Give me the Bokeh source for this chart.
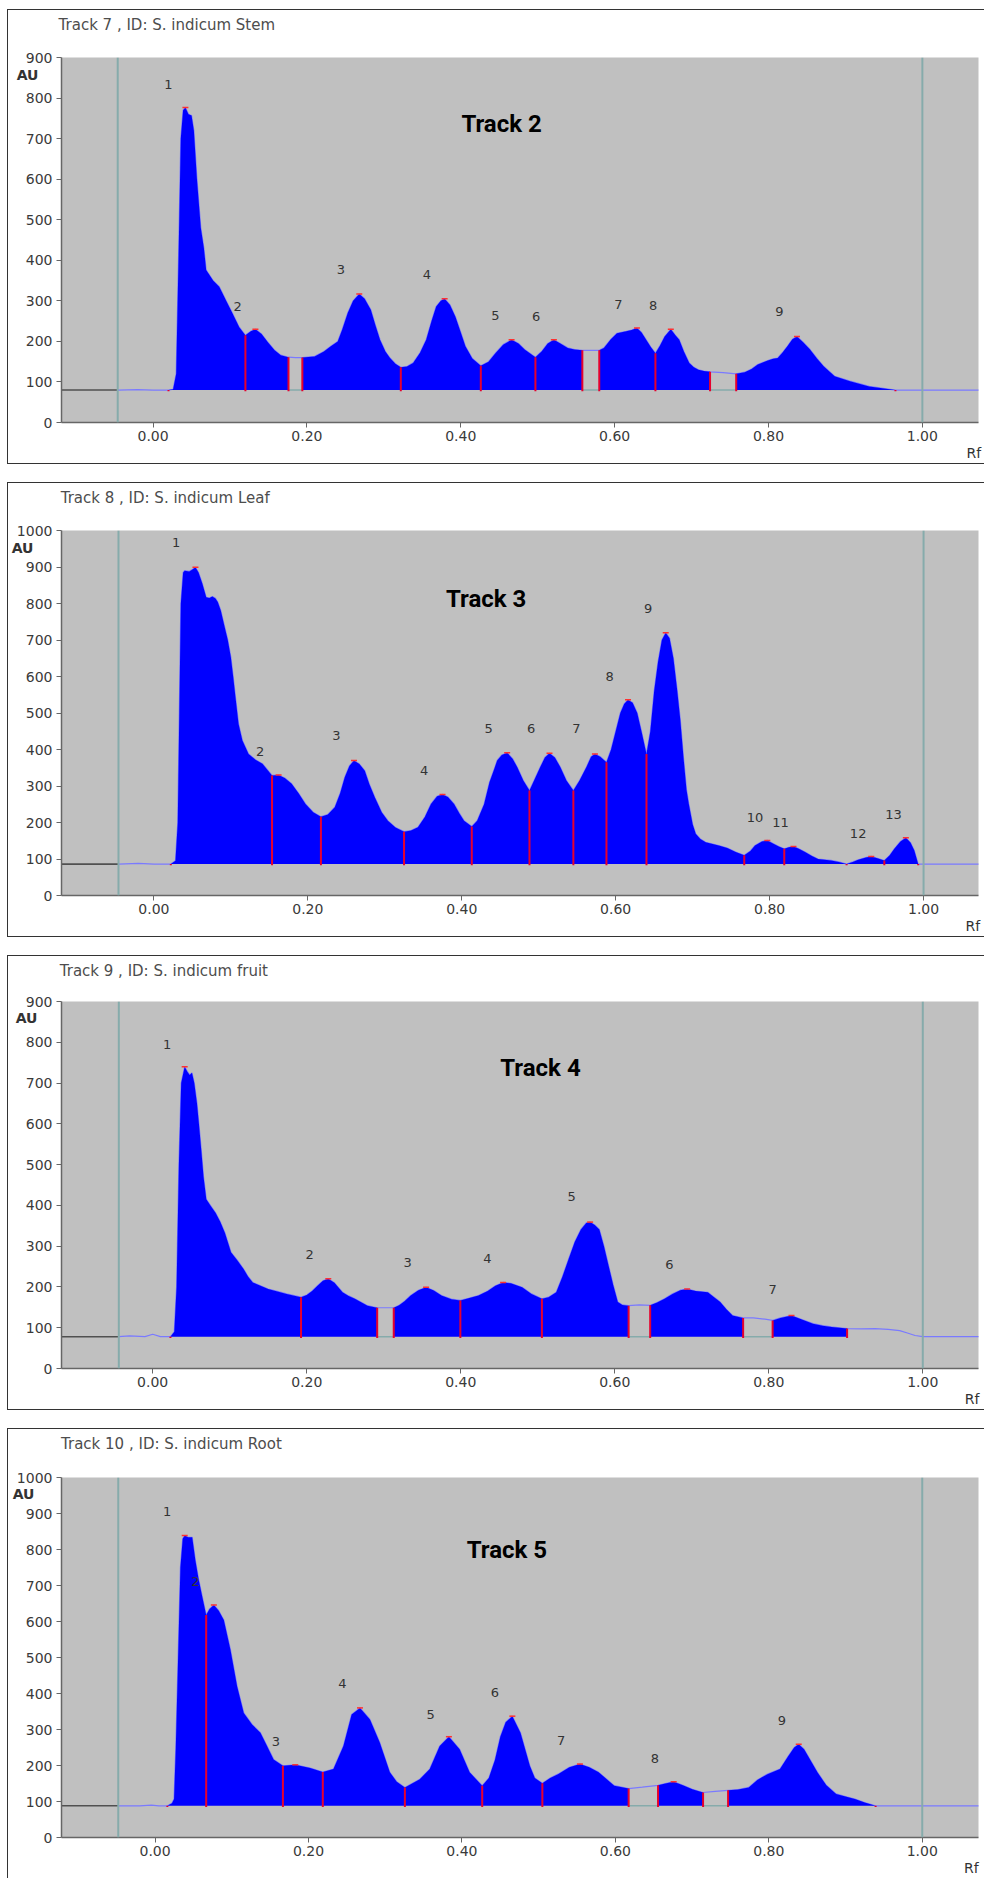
import numpy as np
from bokeh.plotting import figure
from bokeh.layouts import column
from bokeh.models import Range1d, FixedTicker, NumeralTickFormatter, Label, Span, LinearAxis
from bokeh.core.properties import value
from bokeh.embed import file_html
from bokeh.resources import INLINE

# ---------------- data ----------------
x_ticks = [0.0, 0.2, 0.4, 0.6, 0.8, 1.0]

# Track 2 : S. indicum Stem
stem_baseline = 80
stem_limits = [-0.046, 1.0]
stem_rf = [-0.046, -0.02, 0.0, 0.02, 0.026, 0.030, 0.033, 0.036, 0.039, 0.042,
           0.046, 0.050, 0.053, 0.057, 0.062, 0.066, 0.069, 0.078, 0.086, 0.095,
           0.103, 0.112, 0.120, 0.127, 0.133, 0.141, 0.150, 0.158, 0.166, 0.176,
           0.185, 0.194, 0.210, 0.222, 0.231, 0.240, 0.246, 0.253, 0.260, 0.268,
           0.275, 0.283, 0.289, 0.295, 0.302, 0.308, 0.315, 0.322, 0.330, 0.338,
           0.347, 0.355, 0.362, 0.368, 0.374, 0.379, 0.386, 0.393, 0.400, 0.406,
           0.415, 0.426, 0.436, 0.445, 0.455, 0.466, 0.475, 0.483, 0.497, 0.505,
           0.513, 0.521, 0.530, 0.539, 0.548, 0.558, 0.569, 0.580, 0.586, 0.595,
           0.603, 0.615, 0.622, 0.629, 0.635, 0.641, 0.647, 0.653, 0.659, 0.665,
           0.673, 0.679, 0.684, 0.690, 0.697, 0.703, 0.709, 0.716, 0.724, 0.741,
           0.758, 0.769, 0.778, 0.786, 0.799, 0.806, 0.812, 0.818, 0.825, 0.831,
           0.837, 0.845, 0.854, 0.863, 0.872, 0.886, 0.906, 0.931, 0.965, 1.000,
           1.075]
stem_au = [80, 81, 80, 80, 82, 120, 400, 700, 770, 777,
           760, 757, 720, 600, 480, 430, 376, 350, 335, 300,
           270, 235, 215, 225, 230, 218, 196, 178, 166, 161,
           160, 160, 163, 175, 188, 200, 230, 270, 300, 317,
           305, 278, 240, 204, 175, 159, 145, 136, 138, 147,
           172, 204, 250, 286, 300, 305, 290, 261, 222, 188,
           158, 140, 150, 171, 192, 204, 195, 180, 161, 175,
           195, 204, 194, 184, 180, 178, 178, 178, 184, 205,
           220, 225, 228, 233, 222, 204, 186, 171, 190, 212,
           230, 215, 204, 175, 147, 136, 130, 127, 125, 123,
           120, 124, 132, 143, 153, 157, 159, 172, 189, 205,
           212, 198, 180, 158, 138, 114, 102, 89, 80, 80,
           80]
stem_start = [0.020, 0.120, 0.194, 0.322, 0.426, 0.497, 0.580, 0.653, 0.758]
stem_end = [0.120, 0.176, 0.322, 0.426, 0.497, 0.558, 0.653, 0.724, 0.965]
stem_lab_rf = [0.020, 0.110, 0.244, 0.356, 0.445, 0.498, 0.605, 0.650, 0.814]
stem_lab_au = [834, 286, 378, 364, 263, 261, 292, 288, 274]

# Track 3 : S. indicum Leaf
leaf_baseline = 86
leaf_limits = [-0.046, 1.0]
leaf_rf = [-0.046, -0.02, 0.0, 0.022, 0.028, 0.031, 0.033, 0.035, 0.038, 0.040,
           0.046, 0.050, 0.054, 0.058, 0.063, 0.068, 0.072, 0.076, 0.080, 0.083,
           0.087, 0.091, 0.096, 0.100, 0.103, 0.106, 0.110, 0.115, 0.123, 0.132,
           0.141, 0.1535, 0.162, 0.170, 0.179, 0.188, 0.197, 0.207, 0.217, 0.226,
           0.235, 0.242, 0.248, 0.254, 0.260, 0.267, 0.274, 0.280, 0.287, 0.296,
           0.304, 0.314, 0.325, 0.334, 0.343, 0.352, 0.360, 0.368, 0.375, 0.382,
           0.390, 0.397, 0.403, 0.413, 0.420, 0.429, 0.436, 0.442, 0.446, 0.452,
           0.459, 0.466, 0.472, 0.480, 0.488, 0.495, 0.502, 0.508, 0.514, 0.521,
           0.528, 0.536, 0.545, 0.553, 0.562, 0.568, 0.573, 0.580, 0.588, 0.594,
           0.600, 0.606, 0.611, 0.616, 0.622, 0.628, 0.634, 0.640, 0.645, 0.650,
           0.655, 0.660, 0.665, 0.670, 0.675, 0.680, 0.684, 0.688, 0.692, 0.695,
           0.700, 0.704, 0.710, 0.717, 0.734, 0.745, 0.756, 0.767, 0.775, 0.781,
           0.790, 0.797, 0.805, 0.812, 0.819, 0.825, 0.831, 0.838, 0.846, 0.855,
           0.863, 0.880, 0.890, 0.900, 0.908, 0.915, 0.925, 0.932, 0.940, 0.949,
           0.956, 0.962, 0.970, 0.977, 0.983, 0.988, 0.993, 1.000, 1.075]
leaf_au = [86, 88, 86, 86, 95, 200, 500, 800, 885, 890,
           888, 893, 899, 885, 854, 817, 815, 819, 814, 804,
           780, 744, 700, 653, 600, 543, 470, 425, 388, 372,
           361, 329, 330, 322, 306, 280, 251, 228, 216, 222,
           242, 280, 324, 355, 370, 360, 342, 305, 269, 228,
           205, 186, 175, 178, 187, 215, 251, 272, 277, 270,
           251, 225, 205, 189, 205, 250, 310, 345, 370, 385,
           391, 375, 352, 315, 288, 320, 352, 378, 390, 378,
           352, 315, 288, 315, 352, 380, 388, 380, 365, 400,
           450, 500, 525, 536, 528, 500, 445, 388, 450, 560,
           640, 700, 720, 705, 650, 560, 480, 380, 290, 251,
           195, 169, 155, 146, 137, 130, 119, 110, 122, 137,
           148, 151, 142, 134, 128, 132, 134, 128, 119, 108,
           100, 96, 92, 86, 92, 98, 104, 107, 102, 96,
           110, 128, 148, 158, 145, 123, 86, 86, 86]
leaf_start = [0.022, 0.1535, 0.217, 0.325, 0.413, 0.488, 0.545, 0.588, 0.640, 0.767, 0.819, 0.900, 0.949]
leaf_end = [0.1535, 0.217, 0.325, 0.413, 0.488, 0.545, 0.588, 0.640, 0.767, 0.819, 0.900, 0.949, 0.993]
leaf_lab_rf = [0.029, 0.138, 0.237, 0.351, 0.435, 0.490, 0.549, 0.592, 0.642, 0.781, 0.814, 0.915, 0.961]
leaf_lab_au = [968, 395, 438, 342, 457, 457, 457, 601, 787, 214, 201, 171, 221]

# Track 4 : S. indicum fruit
fruit_baseline = 78
fruit_limits = [-0.044, 1.0]
fruit_rf = [-0.044, -0.03, -0.01, 0.0, 0.01, 0.023, 0.028, 0.031, 0.034, 0.037,
            0.0415, 0.045, 0.048, 0.051, 0.054, 0.0575, 0.060, 0.063, 0.066, 0.0696,
            0.0756, 0.0816, 0.0877, 0.0937, 0.1017, 0.110, 0.118, 0.124, 0.130, 0.140,
            0.150, 0.162, 0.174, 0.1926, 0.200, 0.207, 0.214, 0.221, 0.228, 0.236,
            0.2465, 0.2545, 0.2625, 0.279, 0.2915, 0.302, 0.313, 0.320, 0.327, 0.335,
            0.345, 0.355, 0.365, 0.375, 0.388, 0.3995, 0.410, 0.423, 0.435, 0.445,
            0.455, 0.465, 0.4797, 0.492, 0.5054, 0.514, 0.524, 0.532, 0.540, 0.548,
            0.556, 0.563, 0.568, 0.574, 0.580, 0.586, 0.592, 0.598, 0.604, 0.610,
            0.618, 0.632, 0.646, 0.655, 0.6646, 0.675, 0.685, 0.694, 0.705, 0.7208,
            0.729, 0.737, 0.745, 0.753, 0.7667, 0.780, 0.795, 0.805, 0.815, 0.8295,
            0.843, 0.8575, 0.870, 0.8816, 0.892, 0.9017, 0.920, 0.938, 0.955, 0.970,
            0.980, 0.990, 1.000, 1.075]
fruit_au = [78, 80, 78, 84, 78, 78, 90, 200, 500, 700,
            740, 728, 720, 725, 700, 650, 600, 537, 470, 415,
            398, 382, 360, 333, 285, 265, 244, 225, 211, 203,
            195, 189, 183, 175, 180, 190, 203, 215, 220, 210,
            187, 178, 171, 154, 149, 149, 149, 155, 165, 179,
            192, 199, 191, 179, 170, 167, 172, 179, 190, 203,
            211, 209, 199, 183, 171, 175, 187, 225, 268, 310,
            341, 357, 359, 352, 341, 300, 252, 205, 163, 156,
            154, 156, 155, 162, 171, 183, 192, 195, 190, 187,
            175, 163, 145, 130, 124, 124, 121, 118, 124, 130,
            120, 110, 105, 102, 100, 98, 97, 98, 96, 93,
            87, 81, 78, 78]
fruit_start = [0.023, 0.1926, 0.313, 0.3995, 0.5054, 0.646, 0.805]
fruit_end = [0.1926, 0.2915, 0.3995, 0.5054, 0.618, 0.7667, 0.9017]
fruit_lab_rf = [0.0186, 0.2038, 0.331, 0.4345, 0.544, 0.671, 0.805]
fruit_lab_au = [794, 280, 260, 270, 421, 256, 193]

# Track 5 : S. indicum Root
root_baseline = 88
root_limits = [-0.048, 1.0]
root_rf = [-0.048, -0.02, -0.005, 0.005, 0.016, 0.022, 0.0247, 0.027, 0.030, 0.033,
           0.036, 0.0386, 0.043, 0.0484, 0.0525, 0.0565, 0.0606, 0.0666, 0.071, 0.0766,
           0.083, 0.0896, 0.0983, 0.1069, 0.1156, 0.1264, 0.1373, 0.1459, 0.1545, 0.1666,
           0.1827, 0.2022, 0.2186, 0.2325, 0.2455, 0.2562, 0.2671, 0.2801, 0.293, 0.306,
           0.315, 0.3256, 0.345, 0.358, 0.371, 0.383, 0.397, 0.410, 0.4264, 0.435,
           0.443, 0.450, 0.457, 0.4657, 0.4763, 0.4885, 0.495, 0.5048, 0.515, 0.5252,
           0.540, 0.5538, 0.566, 0.5782, 0.5986, 0.6173, 0.635, 0.6556, 0.665, 0.676,
           0.688, 0.7004, 0.7143, 0.730, 0.7469, 0.760, 0.7738, 0.785, 0.7982, 0.8145,
           0.825, 0.833, 0.839, 0.846, 0.8634, 0.875, 0.8878, 0.900, 0.9123, 0.925,
           0.9392, 0.960, 1.000, 1.075]
root_au = [88, 88, 90, 88, 88, 95, 107, 250, 500, 750,
           830, 839, 834, 834, 770, 720, 678, 618, 635, 646,
           630, 604, 521, 420, 346, 314, 291, 254, 217, 199,
           202, 193, 182, 190, 254, 342, 360, 328, 263, 181,
           155, 139, 162, 190, 254, 280, 245, 181, 144, 165,
           215, 280, 320, 337, 291, 199, 165, 151, 165, 176,
           195, 204, 195, 181, 144, 136, 140, 145, 150, 155,
           145, 134, 125, 128, 131, 133, 139, 160, 176, 190,
           225, 250, 259, 245, 181, 145, 121, 114, 107, 97,
           88, 88, 88, 88]
root_start = [0.016, 0.0666, 0.1666, 0.2186, 0.3256, 0.4264, 0.5048, 0.6556, 0.7469]
root_end = [0.0666, 0.1666, 0.2186, 0.3256, 0.4264, 0.5048, 0.6173, 0.7143, 0.9392]
root_lab_rf = [0.0158, 0.0525, 0.1575, 0.2442, 0.3593, 0.4429, 0.5292, 0.6515, 0.8169]
root_lab_au = [906, 710, 266, 427, 343, 403, 270, 219, 326]

panels = [
    dict(header="Track  7 , ID: S. indicum Stem", track="Track 2", rf=stem_rf, au=stem_au,
         start=stem_start, end=stem_end, lab_rf=stem_lab_rf, lab_au=stem_lab_au,
         base=stem_baseline, ymax=900, limits=stem_limits),
    dict(header="Track  8 , ID: S. indicum Leaf", track="Track 3", rf=leaf_rf, au=leaf_au,
         start=leaf_start, end=leaf_end, lab_rf=leaf_lab_rf, lab_au=leaf_lab_au,
         base=leaf_baseline, ymax=1000, limits=leaf_limits),
    dict(header="Track  9 , ID: S. indicum fruit", track="Track 4", rf=fruit_rf, au=fruit_au,
         start=fruit_start, end=fruit_end, lab_rf=fruit_lab_rf, lab_au=fruit_lab_au,
         base=fruit_baseline, ymax=900, limits=fruit_limits),
    dict(header="Track  10 , ID: S. indicum Root", track="Track 5", rf=root_rf, au=root_au,
         start=root_start, end=root_end, lab_rf=root_lab_rf, lab_au=root_lab_au,
         base=root_baseline, ymax=1000, limits=root_limits),
]

# ---------------- layout geometry (page pixels) ----------------
LEFT = 8
W = 976
geom = [
    dict(top=10, h=453, fl=53, fr=984, ft=57, fb=423, x0=146.0, x1=927.0, track=(459, 124),
         hdr_left=53, rf_pos=1.067),
    dict(top=483, h=453, fl=58, fr=981, ft=530, fb=895, x0=151.0, x1=925.7, track=(445, 598),
         hdr_left=59, rf_pos=1.064),
    dict(top=956, h=453, fl=54, fr=984, ft=1001, fb=1370, x0=146.5, x1=927.5, track=(499, 1068),
         hdr_left=55, rf_pos=1.064),
    dict(top=1429, h=449, fl=57, fr=978, ft=1477, fb=1839, x0=151.0, x1=921.5, track=(464, 1550),
         hdr_left=58, rf_pos=1.064),
]

BLUE = "#0000ff"
RED = "#e6002e"
TEAL = "#86abab"
CURVE = "#7a7aff"
FONT = "DejaVu Sans"

# approximate DejaVu Sans advance widths (em) to centre the header text
DJV = {" ": 0.318, ",": 0.318, ".": 0.318, ":": 0.337, "T": 0.611, "r": 0.411, "a": 0.613,
       "c": 0.550, "k": 0.579, "I": 0.295, "D": 0.770, "S": 0.635, "i": 0.278, "n": 0.634,
       "d": 0.635, "u": 0.634, "m": 0.974, "t": 0.392, "e": 0.615, "L": 0.557, "f": 0.352,
       "R": 0.695, "o": 0.612}


def text_width(text, size):
    text = " ".join(text.split())
    return sum(DJV.get(ch, 0.636) for ch in text) * size


def to_data(g, ymax, px, py):
    rf = (px - g["x0"]) / (g["x1"] - g["x0"])
    au = (g["fb"] - py) / (g["fb"] - g["ft"]) * ymax
    return rf, au


def label_axis(pos, text, standoff, size, color, style="normal"):
    return LinearAxis(ticker=FixedTicker(ticks=[pos]), major_label_overrides={pos: text},
                      axis_line_color=None, major_tick_line_color=None, minor_tick_line_color=None,
                      major_tick_out=0, major_tick_in=0, major_label_standoff=standoff,
                      major_label_text_font=FONT, major_label_text_font_style=style,
                      major_label_text_font_size=size, major_label_text_color=color)


figs = []
prev_bottom = 0
for d, g in zip(panels, geom):
    ymax = d["ymax"]
    xs, _ = to_data(g, ymax, g["fl"], 0)
    xe, _ = to_data(g, ymax, g["fr"], 0)
    mbt = g["ft"] - g["top"]
    p = figure(width=W, height=g["h"],
               x_range=Range1d(xs, xe), y_range=Range1d(0, ymax),
               output_backend="svg", toolbar_location=None,
               min_border_left=g["fl"] - LEFT, min_border_right=LEFT + W - g["fr"],
               min_border_top=mbt, min_border_bottom=g["top"] + g["h"] - g["fb"],
               background_fill_color="#c0c0c0", border_fill_color="white",
               outline_line_color=None,
               margin=(g["top"] - prev_bottom, 0, 0, LEFT),
               styles={"outline": "1px solid #333333"})
    prev_bottom = g["top"] + g["h"]
    p.grid.visible = False
    p.title.visible = False

    rf = np.array(d["rf"], dtype=float)
    au = np.array(d["au"], dtype=float)
    base = d["base"]

    # scan limits
    for loc in d["limits"]:
        p.add_layout(Span(location=loc, dimension="height", line_color=TEAL, line_width=2))
    # baseline extension left of the scan start
    p.segment(x0=[xs], y0=[base], x1=[d["limits"][0]], y1=[base], line_color="#505050", line_width=1.6)

    # raw curve
    p.line(rf, au, line_color=CURVE, line_width=1.2)

    # integrated peaks
    tops_x, tops_y = [], []
    for s, e in zip(d["start"], d["end"]):
        m = (rf >= s - 1e-9) & (rf <= e + 1e-9)
        p.varea(x=rf[m], y1=base, y2=au[m], fill_color=BLUE)
        k = np.argmax(au[m])
        tops_x.append(rf[m][k])
        tops_y.append(au[m][k])

    # gaps between peaks: teal baseline
    for i in range(len(d["start"]) - 1):
        if d["start"][i + 1] - d["end"][i] > 1e-6:
            p.segment(x0=[d["end"][i]], y0=[base], x1=[d["start"][i + 1]], y1=[base],
                      line_color=TEAL, line_width=1.5)

    # boundaries
    bounds = np.array(sorted(set(d["start"]) | set(d["end"])))
    btops = np.interp(bounds, rf, au)
    p.segment(x0=bounds, y0=base - 3, x1=bounds, y1=btops, line_color=RED, line_width=2)
    p.scatter(tops_x, tops_y, marker="dash", size=6, line_color="#ff3030", line_width=1.5)

    # peak numbers
    p.text(x=d["lab_rf"], y=d["lab_au"], text=[str(i + 1) for i in range(len(d["lab_rf"]))],
           text_font=value(FONT), text_font_size=value("13px"), text_color="#333333",
           text_align="center", text_baseline="middle")

    # axes
    p.xaxis.ticker = FixedTicker(ticks=x_ticks)
    p.xaxis.formatter = NumeralTickFormatter(format="0.00")
    p.yaxis.ticker = FixedTicker(ticks=list(range(0, ymax + 1, 100)))
    for ax in p.axis:
        ax.axis_line_color = "#666666"
        ax.axis_line_width = 1.5
        ax.major_tick_line_color = "#666666"
        ax.major_tick_out = 5
        ax.major_tick_in = 0
        ax.minor_tick_line_color = None
        ax.major_label_text_font = FONT
        ax.major_label_text_font_size = "14px"
        ax.major_label_text_color = "#3a3a3a"
    p.yaxis.major_label_standoff = 4
    p.xaxis.major_label_standoff = 3

    # header line above the frame
    hdr_pos = round(to_data(g, ymax, g["hdr_left"] + text_width(d["header"], 15) / 2, 0)[0], 4)
    p.add_layout(label_axis(hdr_pos, d["header"], mbt - 23, "15px", "#4d4d4d"), "above")

    # "AU" unit, in the tick-label column just under the top tick
    _, au_pos = to_data(g, ymax, 0, g["ft"] + 17)
    au_pos = int(round(au_pos))
    axis1_w = 5 + 4 + len(str(ymax)) * 0.636 * 14
    au_right = 13 + 20
    p.add_layout(label_axis(au_pos, "AU", int(round((g["fl"] - axis1_w) - au_right)),
                            "14px", "#333333", "bold"), "left")

    # "Rf" unit, under the right end of the x axis
    p.add_layout(label_axis(g["rf_pos"], "Rf", 1, "14px", "#333333"), "below")

    tx, ty = to_data(g, ymax, *g["track"])
    p.add_layout(Label(x=tx, y=ty, text=d["track"], text_font="Roboto",
                       text_font_size="24px", text_font_style="bold", text_color="black",
                       text_baseline="middle", text_align="left"))
    figs.append(p)

layout = column(*figs)
open("out.html", "w").write(file_html(layout, INLINE, title="HPTLC densitograms"))
